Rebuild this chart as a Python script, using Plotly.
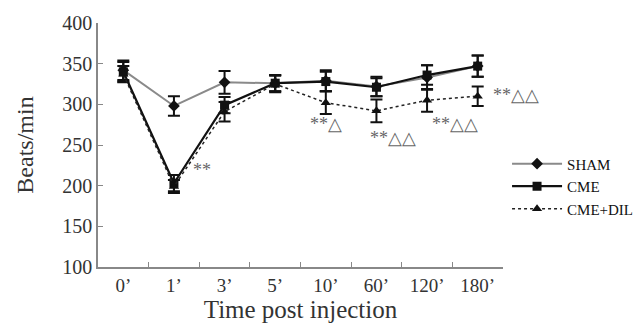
import plotly.graph_objects as go

categories = ["0’", "1’", "3’", "5’", "10’", "60’", "120’", "180’"]

sham = [342, 298, 327, 326, 329, 322, 333, 347]
sham_err = [12, 12, 14, 10, 13, 12, 15, 13]

cme = [340, 203, 299, 326, 328, 321, 336, 347]
cme_err = [12, 10, 10, 10, 12, 11, 12, 13]

dil = [337, 199, 291, 325, 302, 292, 305, 310]
dil_err = [10, 8, 12, 10, 14, 14, 14, 12]

sig_labels = ["**", "**△", "**△△", "**△△", "**△△"]
sig_x = ["1’", "10’", "60’", "120’", "180’"]
sig_y = [219, 276, 259, 276, 311]
sig_dx = [28, 0, 17, 28, 38]

serif = "Liberation Serif"

fig = go.Figure()

fig.add_trace(go.Scatter(
    x=categories, y=sham, name="SHAM", mode="lines+markers",
    line=dict(color="#8a8a8a", width=2),
    marker=dict(symbol="diamond", size=9, color="#111111"),
    error_y=dict(type="data", array=sham_err, color="#111111", thickness=2, width=6),
))
fig.add_trace(go.Scatter(
    x=categories, y=cme, name="CME", mode="lines+markers",
    line=dict(color="#111111", width=2.2),
    marker=dict(symbol="square", size=9, color="#111111"),
    error_y=dict(type="data", array=cme_err, color="#111111", thickness=2, width=6),
))
fig.add_trace(go.Scatter(
    x=categories, y=dil, name="CME+DIL", mode="lines+markers",
    line=dict(color="#222222", width=1.5, dash="dot"),
    marker=dict(symbol="triangle-up", size=9, color="#111111"),
    error_y=dict(type="data", array=dil_err, color="#111111", thickness=2, width=6),
))

for lab, xv, yv, dx in zip(sig_labels, sig_x, sig_y, sig_dx):
    fig.add_annotation(x=xv, y=yv, text=lab, showarrow=False, xshift=dx,
                       font=dict(family=serif, size=18, color="#666666"))

# the page body has an 8px default margin, so the figure is sized to fit
fig.update_layout(
    width=635, height=315,
    margin=dict(l=90, r=140, t=15, b=56, autoexpand=False),
    paper_bgcolor="white", plot_bgcolor="white",
    showlegend=True,
    legend=dict(x=1.01, y=0.49, xanchor="left", yanchor="top",
                font=dict(family=serif, size=15, color="#111111"),
                bgcolor="rgba(0,0,0,0)", itemwidth=50, tracegroupgap=0),
    font=dict(family=serif, color="#333333"),
)
fig.update_xaxes(
    type="category", range=[-0.5, 7.5], tickson="boundaries",
    ticks="inside", ticklen=5, tickcolor="#888888",
    showline=True, linecolor="#888888", linewidth=1.5,
    showgrid=False, zeroline=False, automargin=False,
    tickfont=dict(family=serif, size=19, color="#333333"),
    title=dict(text="Time post injection", font=dict(family=serif, size=25, color="#333333"), standoff=0),
)
fig.update_yaxes(
    range=[100, 400], dtick=50, ticks="inside", ticklen=5, tickcolor="#888888",
    showline=True, linecolor="#888888", linewidth=1.5,
    showgrid=False, zeroline=False, automargin=False,
    tickfont=dict(family=serif, size=20, color="#333333"),
    title=dict(text="Beats/min", font=dict(family=serif, size=24, color="#333333"), standoff=22),
)

fig.write_html("out.html")
